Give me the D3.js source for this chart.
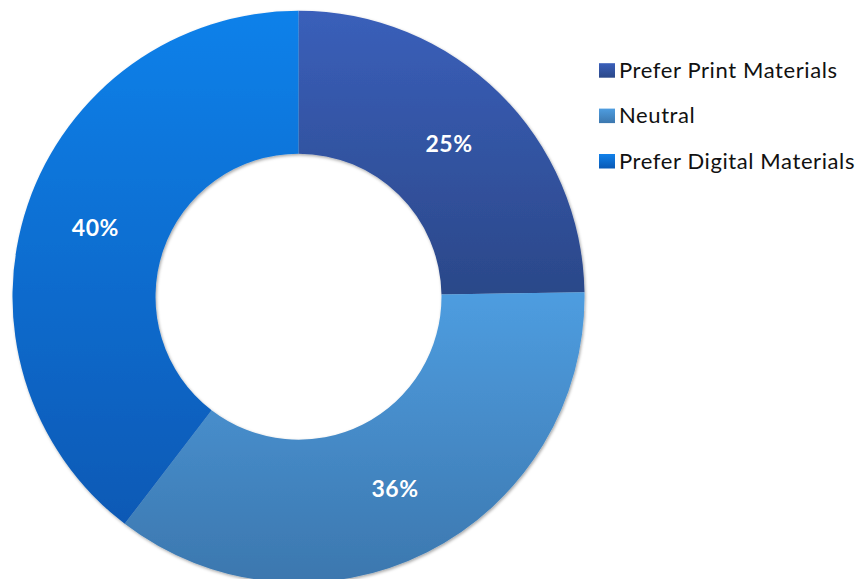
<!DOCTYPE html>
<html>
<head>
<meta charset="utf-8">
<script src="https://cdn.jsdelivr.net/npm/d3@7"></script>
<style>
  html, body { margin: 0; padding: 0; background: #fff; }
  svg { display: block; }
</style>
</head>
<body>
<svg id="chart" width="862" height="579"></svg>
<script>
// Survey answers: preference for print vs. digital materials
const categories = ["Prefer Print Materials", "Neutral", "Prefer Digital Materials"];
const values = [25, 36, 40];
const labels = ["25%", "36%", "40%"];
// gradient stops per slice (top colour, bottom colour)
const topColors = ["#3a5fba", "#4e9de0", "#1181ea"];
const bottomColors = ["#2b4889", "#3c77ae", "#0959b5"];

const svg = d3.select("#chart");
const cx = 298.5, cy = 296.7;
const outerR = 286, innerR = 143;

const defs = svg.append("defs");
categories.forEach((c, i) => {
  const g = defs.append("linearGradient")
    .attr("id", "grad" + i)
    .attr("x1", 0).attr("y1", 0).attr("x2", 0).attr("y2", 1);
  g.append("stop").attr("offset", "0%").attr("stop-color", topColors[i]);
  g.append("stop").attr("offset", "100%").attr("stop-color", bottomColors[i]);
});

const shadow = defs.append("filter").attr("id", "shadow")
  .attr("x", "-10%").attr("y", "-10%").attr("width", "120%").attr("height", "120%");
shadow.append("feDropShadow")
  .attr("dx", 1).attr("dy", 1.5).attr("stdDeviation", 1.6)
  .attr("flood-color", "#000").attr("flood-opacity", 0.35);

const pie = d3.pie().sort(null).value(d => d)(values);
const arc = d3.arc().innerRadius(innerR).outerRadius(outerR);

const g = svg.append("g").attr("transform", `translate(${cx},${cy})`);

g.append("g").attr("filter", "url(#shadow)")
  .selectAll("path")
  .data(pie)
  .join("path")
  .attr("d", arc)
  .attr("fill", (d, i) => `url(#grad${i})`);

g.selectAll("text.value")
  .data(pie)
  .join("text")
  .attr("class", "value")
  .attr("transform", d => `translate(${arc.centroid(d)})`)
  .attr("text-anchor", "middle")
  .attr("dy", "0.36em")
  .attr("font-family", "Lato, 'Open Sans', sans-serif")
  .attr("font-weight", "bold")
  .attr("font-size", 23)
  .attr("letter-spacing", 0.5)
  .attr("fill", "#fff")
  .text((d, i) => labels[i]);

// Legend
const legend = svg.append("g").attr("transform", "translate(599,77.7)");
const row = legend.selectAll("g")
  .data(categories)
  .join("g")
  .attr("transform", (d, i) => `translate(0,${i * 45.4})`);
row.append("rect")
  .attr("y", -14.5)
  .attr("width", 16).attr("height", 14.5)
  .attr("fill", (d, i) => `url(#grad${i})`);
row.append("text")
  .attr("x", 20).attr("y", 0)
  .attr("font-family", "Lato, 'Open Sans', sans-serif")
  .attr("font-size", 22)
  .attr("letter-spacing", 0.6)
  .attr("fill", "#111")
  .text(d => d);
</script>
</body>
</html>
